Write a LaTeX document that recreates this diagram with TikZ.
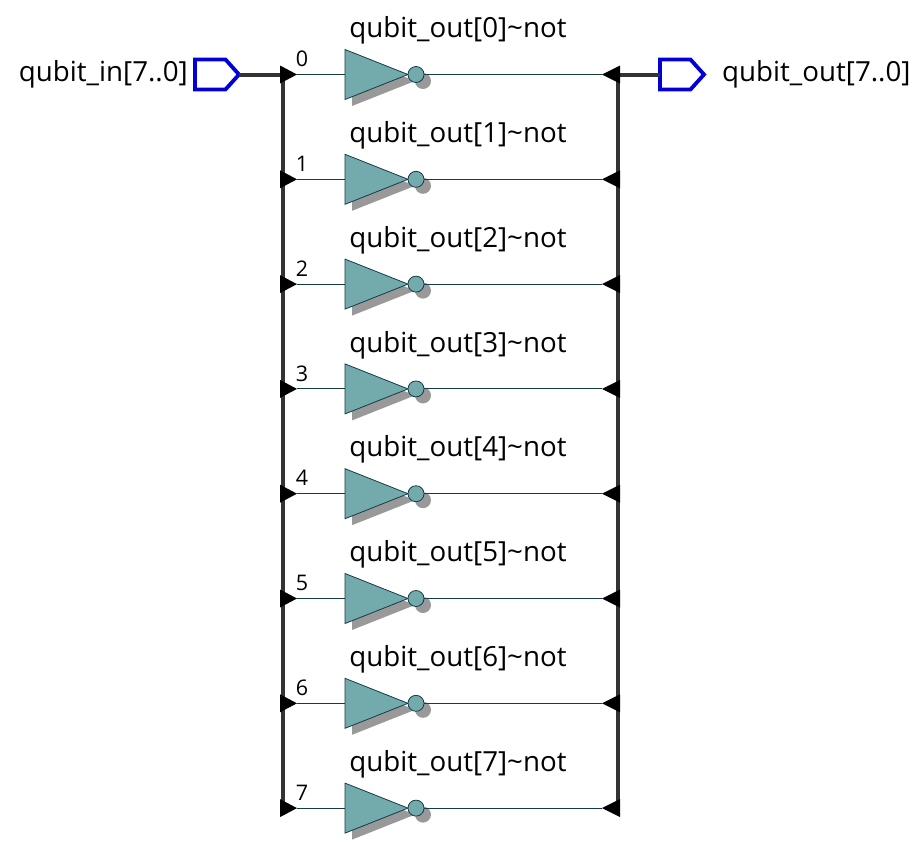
\documentclass[tikz,border=0pt]{standalone}
\usepackage{fontspec}
\setmainfont{Open Sans}
\usetikzlibrary{shapes.geometric,shapes.symbols}
\definecolor{gatefill}{RGB}{115,170,172}
\definecolor{gateline}{RGB}{20,60,70}
\definecolor{pinblue}{RGB}{0,0,215}
\tikzset{
  invert/.style={isosceles triangle, isosceles triangle stretches, shape border rotate=0,
    minimum width=50pt, minimum height=63pt, inner sep=0pt, outer sep=0pt, anchor=lower side},
  notgate/.style={invert, draw=gateline, fill=gatefill, line width=0.8pt},
  notshadow/.style={invert, fill=black!40},
  bubble/.style={circle, minimum size=16pt, inner sep=0pt, outer sep=0pt, draw=gateline, fill=gatefill, line width=0.8pt},
  bubbleshadow/.style={circle, minimum size=16pt, inner sep=0pt, fill=black!40},
  pin/.style={signal, signal to=east, signal from=nowhere, signal pointer angle=96, anchor=west,
    minimum width=44pt, minimum height=30pt, inner sep=0pt, outer sep=0pt, draw=pinblue, line width=3.8pt},
  wire/.style={gateline, line width=0.9pt},
  bus/.style={black!80, line width=4pt},
  label/.style={font=\fontsize{27.7}{32}\selectfont, inner sep=0pt},
  index/.style={font=\fontsize{21.5}{25}\selectfont, inner sep=0pt}
}
\begin{document}
\begin{tikzpicture}[x=1pt, y=-1pt]
\useasboundingbox (0,0) rectangle (918,847);
\node[pin] (in) at (195,74.5) {};
\node[pin] (out) at (660,74.5) {};
\node[label, anchor=east] (inlabel) at (188,74) {qubit\_in[7..0]};
\node[label, anchor=west] (outlabel) at (722,74) {qubit\_out[7..0]};
\coordinate (ltop) at (283,74.5);
\coordinate (lbot) at (283,815);
\coordinate (rtop) at (618,74.5);
\coordinate (rbot) at (618,815);
\draw[bus] (lbot) -- (ltop) -- (in.east);
\draw[bus] (rbot) -- (rtop) -- (out.west);
\foreach \i in {0,...,7} {
  \pgfmathsetmacro{\ypos}{74.5+104.8*\i}
  \coordinate (ltip\i) at (297,\ypos);
  \coordinate (rtip\i) at (602,\ypos);
  \node[notshadow] (ns\i) at (352,\ypos+6.5) {};
  \node[bubbleshadow] (bs\i) at (423,\ypos+6.5) {};
  \node[notgate] (n\i) at (345,\ypos) {};
  \node[bubble] (b\i) at (416,\ypos) {};
  \draw[wire] (ltip\i) -- (n\i.lower side);
  \draw[wire] (b\i) -- (rtip\i);
  \fill (ltip\i) -- ++(-17,-9) -- ++(0,18) -- cycle;
  \fill (rtip\i) -- ++(18,-9) -- ++(0,18) -- cycle;
  \node[index] (idx\i) at (302,\ypos-15.5) {\i};
  \node[label] (name\i) at (458,\ypos-44) {qubit\_out[\i]\textasciitilde not};
}
\end{tikzpicture}
\end{document}
